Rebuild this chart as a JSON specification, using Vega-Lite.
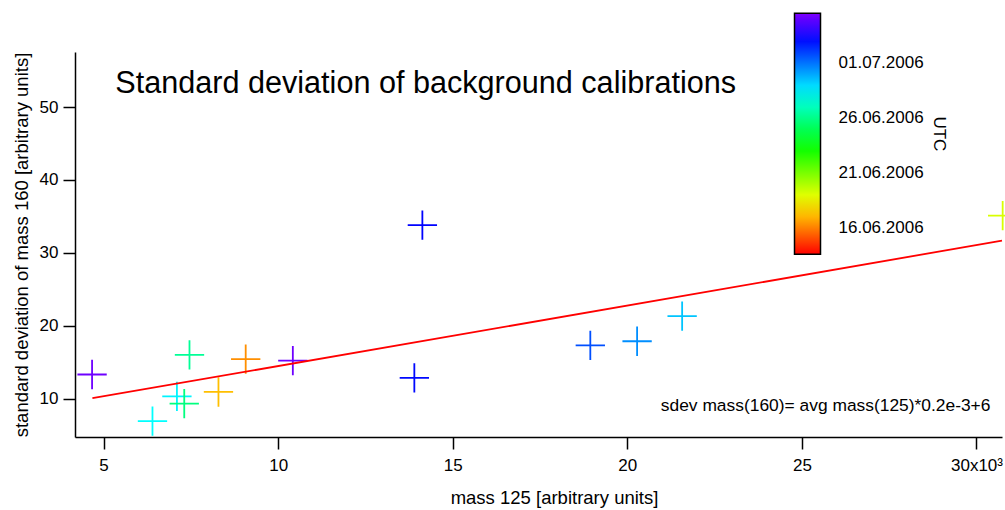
{
  "$schema": "https://vega.github.io/schema/vega-lite/v6.json",
  "width": 927,
  "height": 385,
  "autosize": {"type": "none"},
  "padding": {"left": 75, "top": 52, "right": 3, "bottom": 73},
  "background": "white",
  "config": {
    "view": {"stroke": null},
    "font": "Liberation Sans",
    "axis": {
      "domainColor": "black",
      "domainWidth": 1.5,
      "tickColor": "black",
      "tickWidth": 1.5,
      "tickSize": 12,
      "labelColor": "black",
      "labelFont": "Liberation Sans",
      "labelFontSize": 17,
      "titleColor": "black",
      "titleFont": "Liberation Sans",
      "titleFontSize": 18.5,
      "titleFontWeight": "normal",
      "grid": false
    },
    "legend": {
      "labelFont": "Liberation Sans",
      "labelColor": "black"
    }
  },
  "layer": [
    {
      "data": {
        "values": [
          {"m125": 4670, "sd160": 13.3, "utc_day_of_year": 186.25},
          {"m125": 6400, "sd160": 6.89, "utc_day_of_year": 179.29},
          {"m125": 7100, "sd160": 10.3, "utc_day_of_year": 179.5},
          {"m125": 7310, "sd160": 9.3, "utc_day_of_year": 176.83},
          {"m125": 7460, "sd160": 16.0, "utc_day_of_year": 177.29},
          {"m125": 8290, "sd160": 10.9, "utc_day_of_year": 168.17},
          {"m125": 9070, "sd160": 15.4, "utc_day_of_year": 167.27},
          {"m125": 10420, "sd160": 15.2, "utc_day_of_year": 186.25},
          {"m125": 14130, "sd160": 33.8, "utc_day_of_year": 184.25},
          {"m125": 13900, "sd160": 12.84, "utc_day_of_year": 184.13},
          {"m125": 18940, "sd160": 17.3, "utc_day_of_year": 182.75},
          {"m125": 20280, "sd160": 17.86, "utc_day_of_year": 181.5},
          {"m125": 21570, "sd160": 21.3, "utc_day_of_year": 180.42},
          {"m125": 30750, "sd160": 35.1, "utc_day_of_year": 170.13}
        ]
      },
      "mark": {
        "type": "point",
        "shape": "M-1,0H1M0,-1V1",
        "filled": false,
        "size": 860,
        "strokeWidth": 1.8,
        "opacity": 1
      },
      "encoding": {
        "x": {
          "field": "m125",
          "type": "quantitative",
          "scale": {"domain": [4181, 30731], "nice": false, "zero": false},
          "axis": {
            "title": "mass 125 [arbitrary units]",
            "values": [5000, 10000, 15000, 20000, 25000, 30000],
            "labelExpr": "datum.value == 30000 ? '30x10³' : format(datum.value / 1000, 'd')",
            "labelPadding": 8,
            "titlePadding": 15,
            "titleX": 479,
            "labelFlush": false,
            "labelOverlap": false
          }
        },
        "y": {
          "field": "sd160",
          "type": "quantitative",
          "scale": {"domain": [4.72, 57.56], "nice": false, "zero": false},
          "axis": {
            "title": "standard deviation of mass 160 [arbitrary units]",
            "values": [10, 20, 30, 40, 50],
            "labelPadding": 5,
            "titlePadding": 8,
            "labelFlush": false
          }
        },
        "color": {
          "field": "utc_day_of_year",
          "type": "quantitative",
          "scale": {
            "type": "linear",
            "domain": [164.57, 169.38, 174.38, 179.29, 184.29, 186.57],
            "range": ["#ff0000", "#ffff00", "#00ff00", "#00ffff", "#0000ff", "#8000ff"],
            "interpolate": "rgb",
            "nice": false,
            "zero": false,
            "clamp": true
          },
          "legend": {
            "orient": "none",
            "legendX": 719.5,
            "legendY": -38.7,
            "direction": "vertical",
            "title": null,
            "padding": 0,
            "gradientLength": 241,
            "gradientThickness": 26,
            "gradientStrokeColor": "black",
            "gradientStrokeWidth": 1.5,
            "labelFontSize": 17,
            "labelOffset": 18,
            "labelOverlap": false,
            "values": [167, 172, 177, 182],
            "labelExpr": "utcFormat(utc(2006, 0, datum.value), '%d.%m.%Y')"
          }
        }
      }
    },
    {
      "data": {
        "values": [
          {"m125": 4680, "sd160": 10.04},
          {"m125": 30731, "sd160": 31.67}
        ]
      },
      "mark": {"type": "line", "color": "#ff0000", "strokeWidth": 1.8},
      "encoding": {
        "x": {"field": "m125", "type": "quantitative"},
        "y": {"field": "sd160", "type": "quantitative"}
      }
    },
    {
      "data": {"values": [{}]},
      "mark": {"type": "text", "text": "Standard deviation of background calibrations", "align": "left", "baseline": "alphabetic", "fontSize": 30.6, "font": "Liberation Sans", "color": "black"},
      "encoding": {
        "x": {"datum": 5335, "type": "quantitative"},
        "y": {"datum": 51.93, "type": "quantitative"}
      }
    },
    {
      "data": {"values": [{}]},
      "mark": {"type": "text", "text": "sdev mass(160)= avg mass(125)*0.2e-3+6", "align": "right", "baseline": "alphabetic", "fontSize": 17.4, "font": "Liberation Sans", "color": "black"},
      "encoding": {
        "x": {"datum": 30400, "type": "quantitative"},
        "y": {"datum": 8.26, "type": "quantitative"}
      }
    },
    {
      "data": {"values": [{}]},
      "mark": {"type": "text", "text": "UTC", "align": "center", "baseline": "middle", "angle": 90, "fontSize": 17, "font": "Liberation Sans", "color": "black"},
      "encoding": {
        "x": {"datum": 28930, "type": "quantitative"},
        "y": {"datum": 46.32, "type": "quantitative"}
      }
    }
  ]
}
